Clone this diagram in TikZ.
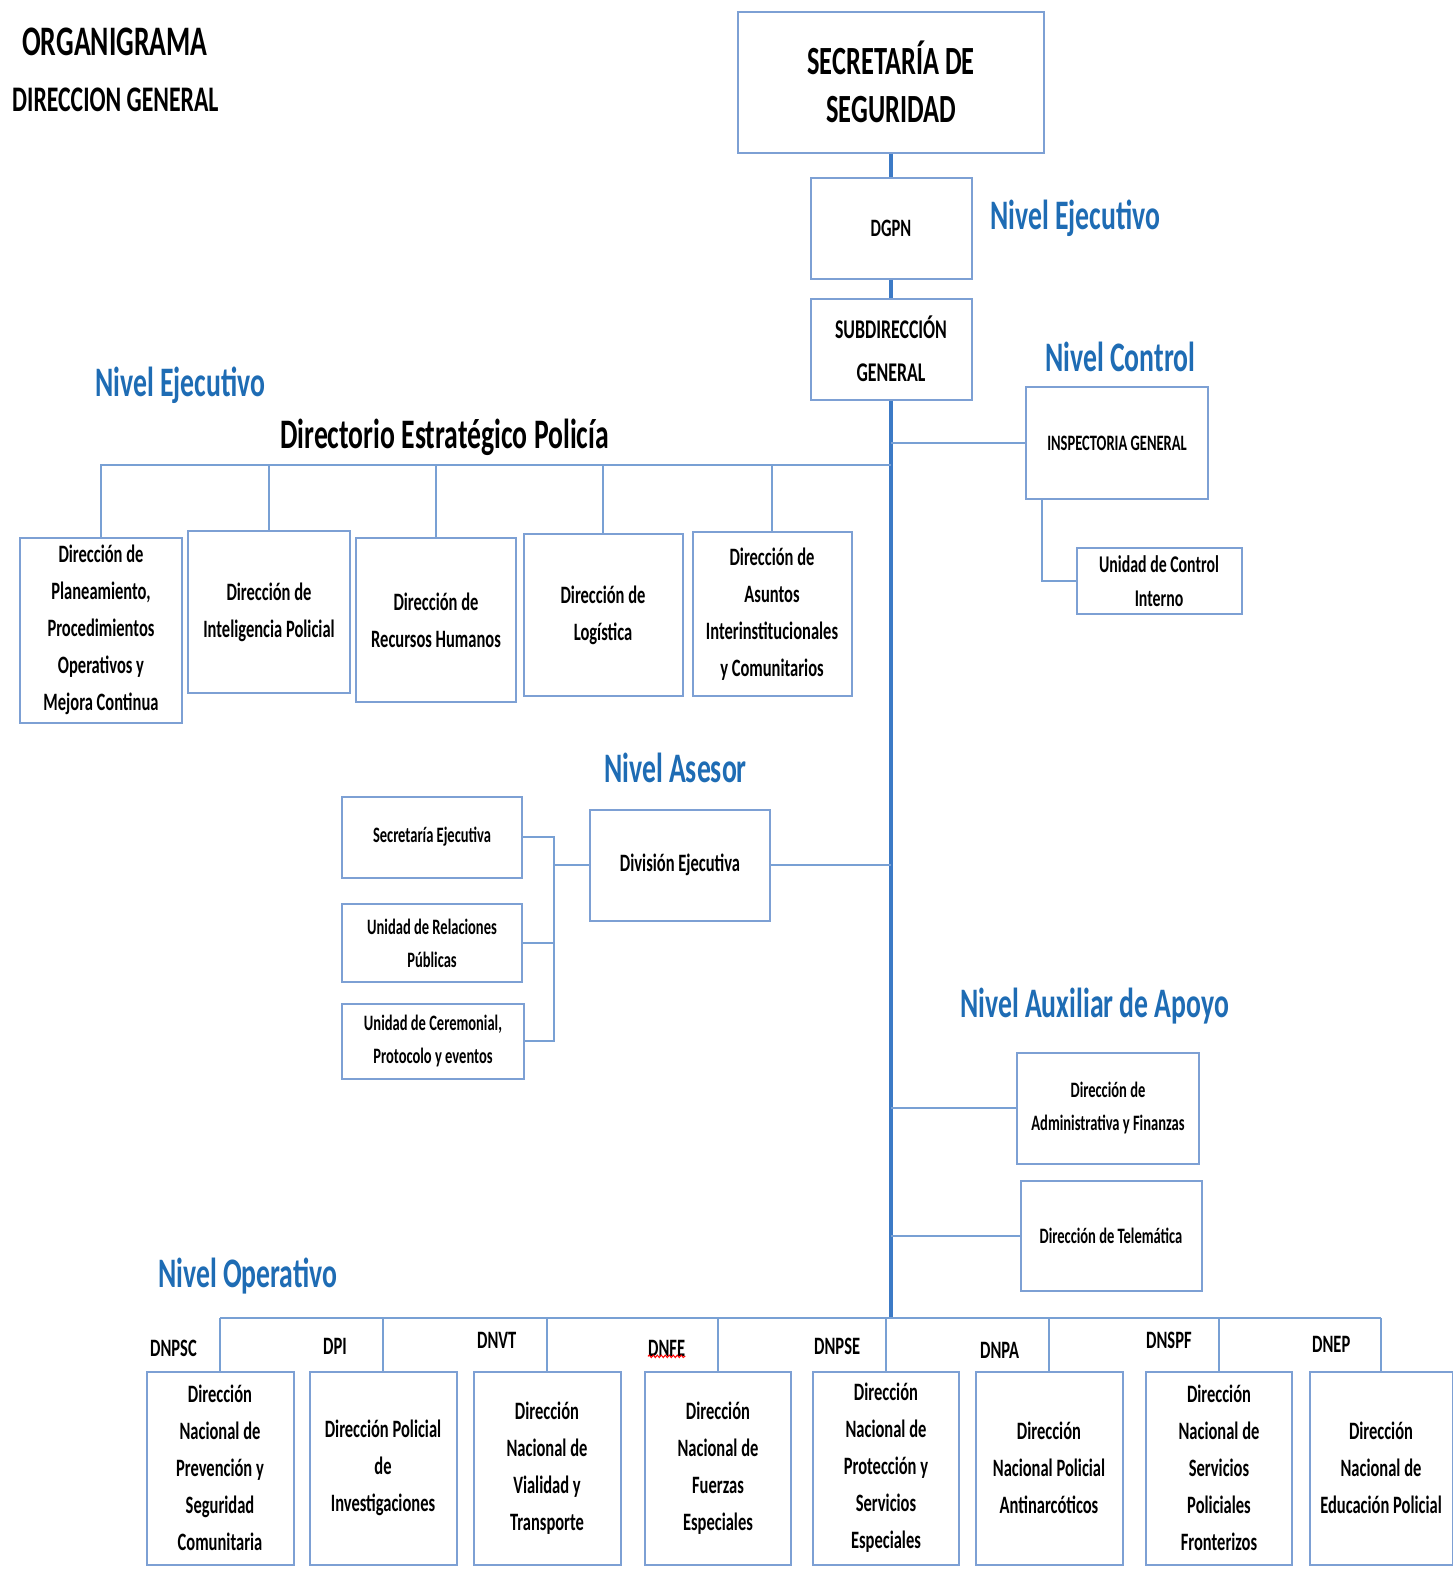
\documentclass[tikz,border=0pt]{standalone}
\usepackage{fontspec}
\setmainfont{Carlito}[FakeStretch=0.66]
\usetikzlibrary{decorations.pathmorphing}
\definecolor{boxblue}{RGB}{125,160,212}
\definecolor{linkblue}{RGB}{120,160,212}
\definecolor{trunkblue}{RGB}{60,122,198}
\definecolor{nivelblue}{RGB}{30,108,180}
\begin{document}
\begin{tikzpicture}
	[x=1pt, y=-1pt,
	every node/.style = {font=\bfseries},
	box/.style = {draw=boxblue, line width=2pt, fill=white, align=center, inner sep=0pt,
		font=\bfseries\fontsize{25}{37}\selectfont},
	smallbox/.style = {box, font=\bfseries\fontsize{22}{33}\selectfont},
	nivel/.style = {anchor=west, inner sep=0pt, text=nivelblue, font=\bfseries\fontsize{42}{50}\selectfont},
	sigla/.style = {anchor=west, inner sep=0pt, font=\bfseries\fontsize{25}{30}\selectfont},
	link/.style = {draw=linkblue, line width=2pt},
	trunk/.style = {draw=trunkblue, line width=4pt}]
\useasboundingbox (0,0) rectangle (1453,1569);
% titulo
\node[anchor=west, inner sep=0pt, font=\bfseries\fontsize{42}{50}\selectfont] (titulo) at (22,42) {ORGANIGRAMA};
\node[anchor=west, inner sep=0pt, font=\bfseries\fontsize{36}{44}\selectfont] (subtitulo) at (12,100) {DIRECCION GENERAL};
% cadena principal
\node[box, minimum width=306, minimum height=141, font=\bfseries\fontsize{40}{48}\selectfont] (sec) at (891,82) {SECRETARÍA DE\\SEGURIDAD};
\node[box, minimum width=161, minimum height=101] (dgpn) at (891,228) {DGPN};
\node[box, minimum width=161, minimum height=101, font=\bfseries\fontsize{27}{43}\selectfont] (sub) at (891,349) {SUBDIRECCIÓN\\GENERAL};
\coordinate (tbot) at (891,1318);
\node[nivel] (nivej) at (990,218) {Nivel Ejecutivo};
% nivel control
\node[nivel] (nivctl) at (1045,357) {Nivel Control};
\node[smallbox, minimum width=182, minimum height=112] (insp) at (1117,443) {INSPECTORIA GENERAL};
\node[box, minimum width=165, minimum height=66, font=\bfseries\fontsize{24}{34}\selectfont] (uci) at (1159,581) {Unidad de Control\\Interno};
% directorio estrategico
\node[nivel] (nivej2) at (95,385) {Nivel Ejecutivo};
\node[anchor=west, inner sep=0pt, font=\bfseries\fontsize{42}{50}\selectfont] (direc) at (280,437) {Directorio Estratégico Policía};
\coordinate (dbar) at (891,465);
\node[box, minimum width=162, minimum height=185] (b1) at (101,630) {Dirección de\\Planeamiento,\\Procedimientos\\Operativos y\\Mejora Continua};
\node[box, minimum width=162, minimum height=162] (b2) at (269,612) {Dirección de\\Inteligencia Policial};
\node[box, minimum width=160, minimum height=164] (b3) at (436,620) {Dirección de\\Recursos Humanos};
\node[box, minimum width=159, minimum height=162] (b4) at (603,615) {Dirección de\\Logística};
\node[box, minimum width=159, minimum height=164] (b5) at (772,614) {Dirección de\\Asuntos\\Interinstitucionales\\y Comunitarios};
% nivel asesor
\node[nivel] (nivase) at (604,768) {Nivel Asesor};
\node[box, minimum width=180, minimum height=111] (divej) at (680,865) {División Ejecutiva};
\node[smallbox, minimum width=180, minimum height=81] (secej) at (432,837) {Secretaría Ejecutiva};
\node[smallbox, minimum width=180, minimum height=78] (urp) at (432,943) {Unidad de Relaciones\\Públicas};
\node[smallbox, minimum width=182, minimum height=75] (ucer) at (433,1041) {Unidad de Ceremonial,\\Protocolo y eventos};
\coordinate (brk) at (554,868);
% nivel auxiliar
\node[nivel] (nivaux) at (960,1006) {Nivel Auxiliar de Apoyo};
\node[smallbox, minimum width=182, minimum height=111] (daf) at (1108,1108) {Dirección de\\Administrativa y Finanzas};
\node[smallbox, minimum width=181, minimum height=110] (dt) at (1111,1236) {Dirección de Telemática};
% nivel operativo
\node[nivel] (nivop) at (158,1276) {Nivel Operativo};
\node[box, minimum width=147, minimum height=193] (o1) at (220,1468) {Dirección\\Nacional de\\Prevención y\\Seguridad\\Comunitaria};
\node[box, minimum width=147, minimum height=193] (o2) at (383,1468) {Dirección Policial\\de\\Investigaciones};
\node[box, minimum width=147, minimum height=193] (o3) at (547,1468) {Dirección\\Nacional de\\Vialidad y\\Transporte};
\node[box, minimum width=146, minimum height=193] (o4) at (718,1468) {Dirección\\Nacional de\\Fuerzas\\Especiales};
\node[box, minimum width=146, minimum height=193] (o5) at (886,1468) {Dirección\\Nacional de\\Protección y\\Servicios\\Especiales};
\node[box, minimum width=147, minimum height=193] (o6) at (1049,1468) {Dirección\\Nacional Policial\\Antinarcóticos};
\node[box, minimum width=146, minimum height=193] (o7) at (1219,1468) {Dirección\\Nacional de\\Servicios\\Policiales\\Fronterizos};
\node[box, minimum width=143, minimum height=193] (o8) at (1381,1468) {Dirección\\Nacional de\\Educación Policial};
\node[sigla] (s1) at (150,1348) {DNPSC};
\node[sigla] (s2) at (323,1346) {DPI};
\node[sigla] (s3) at (477,1340) {DNVT};
\node[sigla] (s4) at (648,1348) {DNFE};
\node[sigla] (s5) at (814,1346) {DNPSE};
\node[sigla] (s6) at (980,1350) {DNPA};
\node[sigla] (s7) at (1146,1340) {DNSPF};
\node[sigla] (s8) at (1312,1344) {DNEP};
\draw[red, line width=1pt, decorate, decoration={snake, amplitude=1.2pt, segment length=4pt}] (s4.south west) -- (s4.south east);
% conectores
\draw[trunk] (sec.south) -- (dgpn.north);
\draw[trunk] (dgpn.south) -- (sub.north);
\draw[trunk] (sub.south) -- (tbot);
\draw[link] (insp.west -| tbot) -- (insp.west);
\draw[link] ([xshift=17pt]insp.south west) |- (uci.west);
\draw[link] (dbar) -- (b1.north |- dbar) -- (b1.north);
\draw[link] (b2.north |- dbar) -- (b2.north);
\draw[link] (b3.north |- dbar) -- (b3.north);
\draw[link] (b4.north |- dbar) -- (b4.north);
\draw[link] (b5.north |- dbar) -- (b5.north);
\draw[link] (divej.east) -- (divej.east -| tbot);
\draw[link] (secej.east) -| (ucer.east -| brk) -- (ucer.east);
\draw[link] (urp.east) -- (urp.east -| brk);
\draw[link] (divej.west) -- (divej.west -| brk);
\draw[link] (daf.west -| tbot) -- (daf.west);
\draw[link] (dt.west -| tbot) -- (dt.west);
\draw[link] (o1.north |- tbot) -- (o8.north |- tbot);
\foreach \o in {o1,o2,o3,o4,o5,o6,o7,o8}
	\draw[link] (\o.north |- tbot) -- (\o.north);
\end{tikzpicture}
\end{document}
